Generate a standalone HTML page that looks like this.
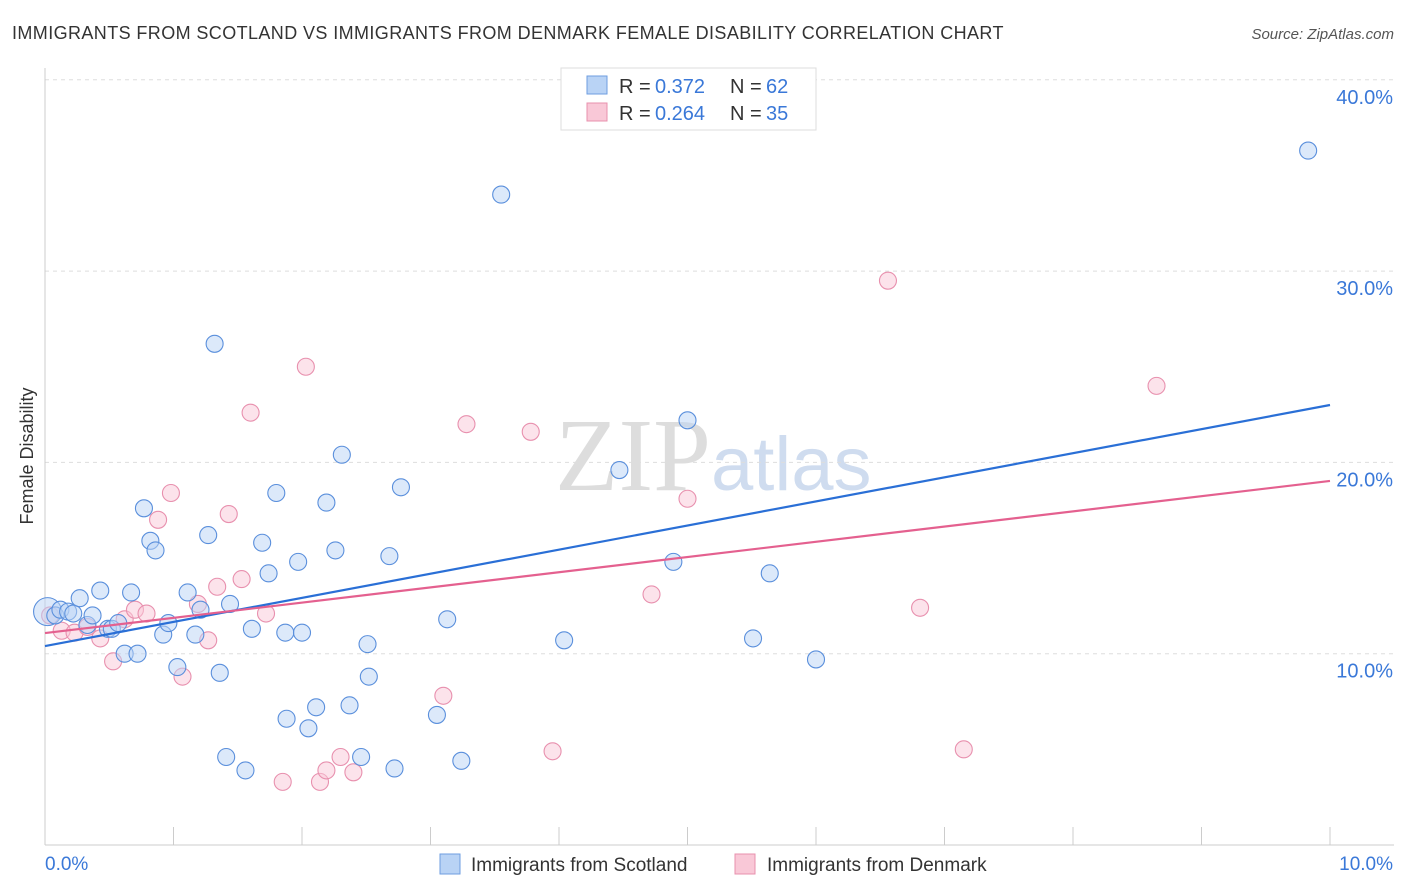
<!DOCTYPE html>
<html><head><meta charset="utf-8"><style>
body{margin:0;background:#fff;font-family:"Liberation Sans",sans-serif;}
svg{display:block}
</style></head><body>
<svg id="chart" width="1406" height="892">
<text x="12" y="39" font-size="18" fill="#333" letter-spacing="0.4">IMMIGRANTS FROM SCOTLAND VS IMMIGRANTS FROM DENMARK FEMALE DISABILITY CORRELATION CHART</text>
<text x="1394" y="39" font-size="15" fill="#555" font-style="italic" text-anchor="end">Source: ZipAtlas.com</text>
<text x="33" y="456" font-size="18" fill="#333" transform="rotate(-90 33 456)" text-anchor="middle">Female Disability</text>
<text x="555" y="490" font-size="104" fill="#ddd" font-family="Liberation Serif,serif">ZIP<tspan fill="#cfdcef" font-family="Liberation Sans,sans-serif" font-size="76">atlas</tspan></text>
<g id="grid"></g><g id="pts"></g><g id="lines"></g>
<g>
<rect x="561" y="68" width="255" height="62" fill="#fff" stroke="#ddd"/>
<rect x="587" y="76" width="20" height="18" fill="#b9d3f5" stroke="#6e9ee0"/>
<rect x="587" y="103" width="20" height="18" fill="#f9c8d7" stroke="#e890ae"/>
<text x="619" y="93" font-size="20" fill="#333">R =</text><text x="655" y="93" font-size="20" fill="#3a78d8">0.372</text>
<text x="730" y="93" font-size="20" fill="#333">N =</text><text x="766" y="93" font-size="20" fill="#3a78d8">62</text>
<text x="619" y="120" font-size="20" fill="#333">R =</text><text x="655" y="120" font-size="20" fill="#3a78d8">0.264</text>
<text x="730" y="120" font-size="20" fill="#333">N =</text><text x="766" y="120" font-size="20" fill="#3a78d8">35</text>
</g>
<g>
<rect x="440" y="854" width="20" height="20" fill="#b9d3f5" stroke="#6e9ee0"/>
<text x="471" y="871" font-size="19" fill="#333">Immigrants from Scotland</text>
<rect x="735" y="854" width="20" height="20" fill="#f9c8d7" stroke="#e890ae"/>
<text x="767" y="871" font-size="19" fill="#333">Immigrants from Denmark</text>
</g>
<text x="45" y="870" font-size="19" fill="#3a78d8">0.0%</text>
<text x="1393" y="870" font-size="19" fill="#3a78d8" text-anchor="end">10.0%</text>
</svg>
<script>
const yTicks=[10,20,30,40];
const scotX=[0.02,0.08,0.12,0.18,0.22,0.27,0.33,0.37,0.43,0.49,0.52,0.57,0.62,0.67,0.72,0.77,0.82,0.86,0.92,0.96,1.03,1.11,1.17,1.21,1.27,1.32,1.36,1.41,1.44,1.56,1.61,1.69,1.74,1.8,1.87,1.88,1.97,2.0,2.05,2.11,2.19,2.26,2.31,2.37,2.46,2.51,2.52,2.68,2.72,2.77,3.05,3.13,3.24,3.55,4.04,4.47,4.89,5.0,5.51,5.64,6.0,9.83];
const scotY=[12.2,12.0,12.3,12.2,12.1,12.9,11.5,12.0,13.3,11.3,11.3,11.6,10.0,13.2,10.0,17.6,15.9,15.4,11.0,11.6,9.3,13.2,11.0,12.3,16.2,26.2,9.0,4.6,12.6,3.9,11.3,15.8,14.2,18.4,11.1,6.6,14.8,11.1,6.1,7.2,17.9,15.4,20.4,7.3,4.6,10.5,8.8,15.1,4.0,18.7,6.8,11.8,4.4,34.0,10.7,19.6,14.8,22.2,10.8,14.2,9.7,36.3];
const denX=[0.04,0.13,0.23,0.33,0.43,0.53,0.62,0.7,0.79,0.88,0.98,1.07,1.19,1.27,1.34,1.43,1.53,1.6,1.72,1.85,2.03,2.14,2.19,2.3,2.4,3.1,3.28,3.78,3.95,4.72,5.0,6.56,6.81,7.15,8.65];
const denY=[12.0,11.2,11.1,11.4,10.8,9.6,11.8,12.3,12.1,17.0,18.4,8.8,12.6,10.7,13.5,17.3,13.9,22.6,12.1,3.3,25.0,3.3,3.9,4.6,3.8,7.8,22.0,21.6,4.9,13.1,18.1,29.5,12.4,5.0,24.0];
const scotLine=[10.4,23.0], denLine=[11.08,19.03];
const NS='http://www.w3.org/2000/svg';
const X=v=>45+v*128.5, Y=v=>845-v*19.13;
function el(t,a,p){const e=document.createElementNS(NS,t);for(const k in a)e.setAttribute(k,a[k]);p.appendChild(e);return e;}
const grid=document.getElementById('grid');
for(const t of yTicks){
 const l=el('line',{x1:45,x2:1394,y1:Y(t),y2:Y(t),stroke:'#ddd','stroke-dasharray':'4 4'},grid);
 
 
 const tx=el('text',{x:1393,y:Y(t)+24,'font-size':20,fill:'#3a78d8','text-anchor':'end'},grid);
 tx.textContent=t.toFixed(1)+'%';
 
 
}
const ax=el('line',{x1:45,x2:45,y1:68,y2:845,stroke:'#ccc'},grid);


const bx=el('line',{x1:45,x2:1394,y1:845,y2:845,stroke:'#ccc'},grid);


for(let i=0;i<=10;i++){
 const t=el('line',{x1:X(i),x2:X(i),y1:827,y2:845,stroke:'#ccc'},grid);
 
 
}
const pts=document.getElementById('pts');
function dots(xs,ys,f,s,name){xs.forEach((x,i)=>{
 const c=el('circle',{cx:X(x),cy:Y(ys[i]),r:(i===0&&name==='scotland-point')?14:8.5,fill:f,'fill-opacity':0.5,stroke:s,'stroke-width':1.1},pts);
 
 
});}
dots(denX,denY,'#f9c8d7','#e890ae','denmark-point');
dots(scotX,scotY,'#b9d3f5','#5a8fdc','scotland-point');
const lines=document.getElementById('lines');
const l1=el('line',{x1:X(0),x2:X(10),y1:Y(scotLine[0]),y2:Y(scotLine[1]),stroke:'#2a6fd6','stroke-width':2.2},lines);


const l2=el('line',{x1:X(0),x2:X(10),y1:Y(denLine[0]),y2:Y(denLine[1]),stroke:'#e4608f','stroke-width':2.2},lines);


</script>
</body></html>
